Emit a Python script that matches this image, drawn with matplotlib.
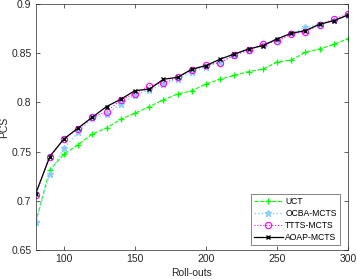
import matplotlib
matplotlib.use("Agg")
import matplotlib.pyplot as plt

plt.rcParams['font.family'] = ['Liberation Sans', 'DejaVu Sans']

rollouts = [80, 90, 100, 110, 120, 130, 140, 150, 160, 170, 180, 190, 200,
            210, 220, 230, 240, 250, 260, 270, 280, 290, 300]
uct = [0.678, 0.7315, 0.7474, 0.757, 0.768, 0.774, 0.783, 0.789, 0.7957, 0.8025,
       0.8086, 0.8117, 0.8188, 0.8235, 0.8275, 0.8313, 0.8337, 0.841, 0.843,
       0.851, 0.8543, 0.859, 0.8648]
ocba = [0.678, 0.7274, 0.754, 0.7694, 0.784, 0.788, 0.7985, 0.8076, 0.8127, 0.8188,
        0.8235, 0.8313, 0.836, 0.8414, 0.848, 0.8535, 0.8585, 0.8635, 0.8705,
        0.8763, 0.8794, 0.8835, 0.889]
ttts = [0.706, 0.745, 0.763, 0.773, 0.785, 0.7907, 0.8025, 0.809, 0.8168, 0.8201,
        0.8255, 0.833, 0.838, 0.8404, 0.8482, 0.853, 0.8594, 0.862, 0.8695,
        0.872, 0.879, 0.8845, 0.8899]
aoap = [0.707, 0.745, 0.763, 0.774, 0.785, 0.7958, 0.8032, 0.812, 0.8134, 0.8235,
        0.8255, 0.8337, 0.8374, 0.844, 0.8492, 0.8543, 0.8577, 0.8645, 0.8702,
        0.873, 0.8794, 0.883, 0.8888]
labels = ["UCT", "OCBA-MCTS", "TTTS-MCTS", "AOAP-MCTS"]

fig = plt.figure(figsize=(3.57, 2.79), dpi=100)
ax = fig.add_axes([0.0997, 0.104, 0.8753, 0.8817])

ax.plot(rollouts, uct, linestyle='--', color='#00ff00', marker='+', markersize=4.5,
        linewidth=0.8, label=labels[0])
ax.plot(rollouts, ocba, linestyle=':', color='#87cefa', marker='*', markersize=4.5,
        linewidth=1.0, label=labels[1])
ax.plot(rollouts, ttts, linestyle=':', color='#ff00ff', marker='o', markersize=4.5,
        markerfacecolor='none', markeredgewidth=0.8, linewidth=0.8, label=labels[2])
ax.plot(rollouts, aoap, linestyle='-', color='black', marker='x', markersize=3,
        linewidth=0.9, label=labels[3])

ax.set_xlim(80, 300)
ax.set_ylim(0.65, 0.9)
ax.set_xticks([100, 150, 200, 250, 300])
ax.set_yticks([0.65, 0.7, 0.75, 0.8, 0.85, 0.9])
ax.set_yticklabels(["0.65", "0.7", "0.75", "0.8", "0.85", "0.9"])
ax.tick_params(direction='in', top=True, right=True, labelsize=7.5,
               colors='#262626', length=3, width=0.5, pad=3)
for s in ax.spines.values():
    s.set_linewidth(0.5)
    s.set_color('#262626')
ax.set_xlabel("Roll-outs", fontsize=7.5, color='#262626', labelpad=3)
ax.set_ylabel("PCS", fontsize=7.5, color='#262626')
ax.yaxis.set_label_coords(-0.085, 0.5)

leg = ax.legend(loc='lower right', fontsize=6.2, frameon=True, fancybox=False,
                edgecolor='#262626', borderpad=0.35, labelspacing=0.35,
                handlelength=3.3, handletextpad=0.3, borderaxespad=0.6,
                bbox_to_anchor=(0.99, 0.0))
leg.get_frame().set_linewidth(0.5)

fig.savefig("out.png", dpi=100)
